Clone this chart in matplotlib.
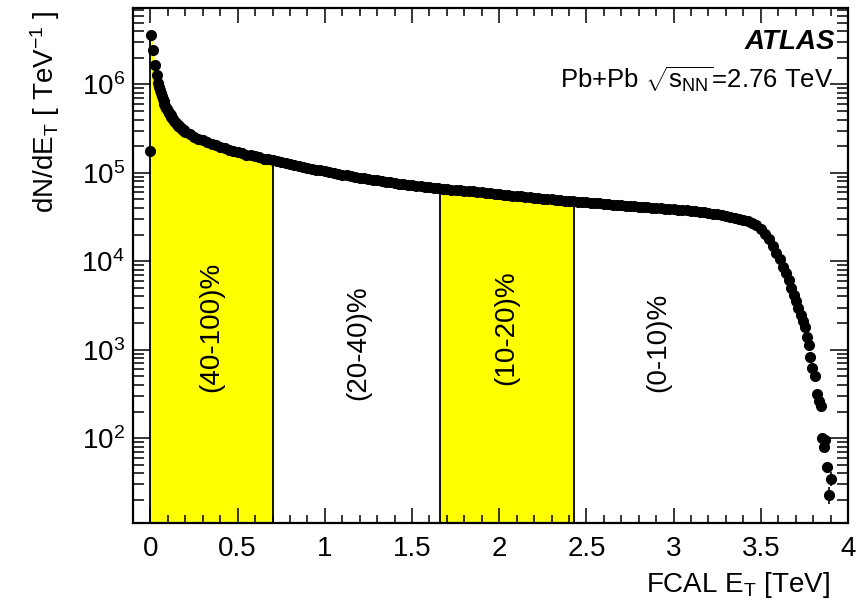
import numpy as np
import matplotlib
matplotlib.use("Agg")
import matplotlib.pyplot as plt
from matplotlib.ticker import LogLocator, MultipleLocator, NullFormatter, LogFormatterMathtext, FormatStrFormatter

plt.rcParams['font.family'] = ['Liberation Sans', 'DejaVu Sans']
plt.rcParams['mathtext.fontset'] = 'custom'
plt.rcParams['mathtext.rm'] = 'Liberation Sans'
plt.rcParams['mathtext.it'] = 'Liberation Sans:italic'
plt.rcParams['mathtext.bf'] = 'Liberation Sans:bold'

# FCAL ET distribution
# first (fine) bins near zero
et_lo = [-0.005, 0.005, 0.015, 0.025, 0.035, 0.045,
         0.05, 0.055, 0.06, 0.065, 0.07, 0.075, 0.08, 0.085, 0.09, 0.095,
         0.1, 0.105, 0.11, 0.115, 0.12, 0.125, 0.13, 0.135, 0.14, 0.145,
         0.15, 0.155, 0.16, 0.165, 0.17, 0.175, 0.18, 0.185, 0.19, 0.195]
dn_lo = [1.75e5, 3.6e6, 2.46e6, 1.67e6, 1.29e6, 1.03e6,
         9.4e5, 8.6e5, 7.9e5, 7.3e5, 6.8e5, 6.4e5, 6.0e5, 5.7e5, 5.45e5, 5.2e5,
         5.0e5, 4.8e5, 4.6e5, 4.45e5, 4.3e5, 4.15e5, 4.02e5, 3.9e5, 3.8e5, 3.7e5,
         3.6e5, 3.5e5, 3.42e5, 3.35e5, 3.27e5, 3.2e5, 3.13e5, 3.07e5, 3.01e5, 2.95e5]

# plateau
et_mid = [0.2, 0.225, 0.25, 0.275, 0.3, 0.325, 0.35, 0.375, 0.4, 0.425, 0.45, 0.475,
          0.5, 0.525, 0.55, 0.575, 0.6, 0.625, 0.65, 0.675, 0.7, 0.725, 0.75, 0.775,
          0.8, 0.825, 0.85, 0.875, 0.9, 0.925, 0.95, 0.975, 1.0, 1.025, 1.05, 1.075,
          1.1, 1.125, 1.15, 1.175, 1.2, 1.225, 1.25, 1.275, 1.3, 1.325, 1.35, 1.375,
          1.4, 1.425, 1.45, 1.475, 1.5, 1.525, 1.55, 1.575, 1.6, 1.625, 1.65, 1.675,
          1.7, 1.725, 1.75, 1.775, 1.8, 1.825, 1.85, 1.875, 1.9, 1.925, 1.95, 1.975,
          2.0, 2.025, 2.05, 2.075, 2.1, 2.125, 2.15, 2.175, 2.2, 2.225, 2.25, 2.275,
          2.3, 2.325, 2.35, 2.375, 2.4, 2.425, 2.45, 2.475, 2.5, 2.525, 2.55, 2.575,
          2.6, 2.625, 2.65, 2.675, 2.7, 2.725, 2.75, 2.775, 2.8, 2.825, 2.85, 2.875,
          2.9, 2.925, 2.95, 2.975, 3.0, 3.025, 3.05, 3.075, 3.1, 3.125, 3.15, 3.175,
          3.2, 3.225, 3.25, 3.275, 3.3, 3.325, 3.35, 3.375, 3.4, 3.425, 3.45, 3.475,
          3.5, 3.525, 3.55]
dn_mid = [2.9e5, 2.72e5, 2.55e5, 2.43e5, 2.32e5, 2.22e5, 2.12e5, 2.04e5, 1.97e5, 1.9e5, 1.83e5, 1.77e5,
          1.71e5, 1.66e5, 1.61e5, 1.57e5, 1.53e5, 1.49e5, 1.45e5, 1.42e5, 1.38e5, 1.35e5, 1.32e5, 1.29e5,
          1.26e5, 1.23e5, 1.2e5, 1.17e5, 1.14e5, 1.11e5, 1.09e5, 1.065e5, 1.04e5, 1.02e5, 9.9e4, 9.7e4,
          9.5e4, 9.35e4, 9.15e4, 9.0e4, 8.8e4, 8.65e4, 8.45e4, 8.3e4, 8.2e4, 8.05e4, 7.9e4, 7.8e4,
          7.7e4, 7.55e4, 7.45e4, 7.35e4, 7.25e4, 7.15e4, 7.05e4, 6.95e4, 6.85e4, 6.75e4, 6.7e4, 6.6e4,
          6.55e4, 6.45e4, 6.4e4, 6.35e4, 6.3e4, 6.2e4, 6.15e4, 6.05e4, 6.0e4, 5.9e4, 5.85e4, 5.8e4,
          5.7e4, 5.65e4, 5.6e4, 5.5e4, 5.45e4, 5.4e4, 5.35e4, 5.3e4, 5.25e4, 5.2e4, 5.1e4, 5.05e4,
          5.0e4, 4.95e4, 4.9e4, 4.85e4, 4.8e4, 4.78e4, 4.72e4, 4.68e4, 4.63e4, 4.6e4, 4.55e4, 4.5e4,
          4.47e4, 4.42e4, 4.38e4, 4.35e4, 4.3e4, 4.27e4, 4.22e4, 4.18e4, 4.15e4, 4.1e4, 4.07e4, 4.03e4,
          4.0e4, 3.97e4, 3.93e4, 3.9e4, 3.86e4, 3.83e4, 3.79e4, 3.75e4, 3.72e4, 3.68e4, 3.63e4, 3.58e4,
          3.5e4, 3.45e4, 3.38e4, 3.32e4, 3.27e4, 3.2e4, 3.12e4, 3.03e4, 2.95e4, 2.85e4, 2.72e4, 2.55e4,
          2.3e4, 2.05e4, 1.8e4]

# steep fall-off
et_tail = [3.57, 3.59, 3.61, 3.63, 3.645, 3.66, 3.675, 3.69, 3.70, 3.715, 3.73, 3.745,
           3.755, 3.765, 3.775, 3.785, 3.795, 3.81, 3.82, 3.835, 3.845, 3.85, 3.86, 3.87,
           3.88, 3.89, 3.90]
dn_tail = [1.5e4, 1.25e4, 1.05e4, 8.6e3, 7.4e3, 6.2e3, 5.0e3, 4.2e3, 3.6e3, 3.0e3, 2.5e3, 2.1e3,
           1.8e3, 1.4e3, 1.14e3, 830, 620, 500, 320, 260, 230, 100, 79, 95,
           47, 23, 35]
err_tail = [122, 112, 102, 93, 86, 79, 71, 65, 60, 55, 50, 46,
            42, 37, 34, 29, 25, 22, 18, 16, 15, 10, 9, 10,
            7, 5, 6]

# centrality bins: yellow bands and labels
bands = [(0.0, 0.70), (1.66, 2.43)]
cent_labels = ["(40-100)%", "(20-40)%", "(10-20)%", "(0-10)%"]

et = np.array(et_lo + et_mid + et_tail)
dn = np.array(dn_lo + dn_mid + dn_tail)
err = np.array([0.0] * (len(et_lo) + len(et_mid)) + err_tail)

ymin, ymax = 11, 7.3e6

fig = plt.figure(figsize=(8.65, 6.09), dpi=100)
ax = fig.add_axes([0.1538, 0.1412, 0.8265, 0.8457])

for lo, hi in bands:
    m = (et >= lo) & (et <= hi)
    xs = np.concatenate([[lo], et[m], [hi]])
    ys = np.concatenate([[dn[m][0]], dn[m], [dn[m][-1]]])
    ax.fill_between(xs, ymin, ys, color='#ffff00', lw=0, zorder=1)
    ax.vlines([lo, hi], ymin, [ys[0], ys[-1]], color='k', lw=1.3, zorder=2)

ax.errorbar(et, dn, yerr=err, fmt='o', color='k', ms=7, elinewidth=1.2, capsize=0, zorder=3)

ax.set_yscale('log')
ax.set_xlim(-0.1, 4.0)
ax.set_ylim(ymin, ymax)

ax.xaxis.set_major_locator(MultipleLocator(0.5))
ax.xaxis.set_minor_locator(MultipleLocator(0.1))
ax.xaxis.set_major_formatter(FormatStrFormatter('%g'))
ax.yaxis.set_major_locator(LogLocator(base=10, numticks=10))
ax.yaxis.set_minor_locator(LogLocator(base=10, subs=np.arange(2, 10), numticks=10))
ax.yaxis.set_minor_formatter(NullFormatter())
ax.yaxis.set_major_formatter(LogFormatterMathtext())

ax.tick_params(which='both', direction='in', top=True, right=True, labelsize=20, width=1.1)
ax.tick_params(axis='x', which='major', length=11, pad=9)
ax.tick_params(axis='x', which='minor', length=6)
ax.tick_params(axis='y', which='major', length=13, pad=6)
ax.tick_params(axis='y', which='minor', length=8)
for s in ax.spines.values():
    s.set_linewidth(1.6)

# centrality labels, placed mid-bin
for lab, xp, yp in zip(cent_labels, [0.35, 1.19, 2.04, 2.91], [0.38, 0.35, 0.38, 0.35]):
    ax.text(xp, yp, lab, rotation=90, ha='center', va='center', fontsize=20,
            transform=ax.get_xaxis_transform())

ax.text(0.982, 0.934, "ATLAS", transform=ax.transAxes, ha='right', va='center',
        fontsize=20, fontweight='bold', fontstyle='italic')
ax.text(0.979, 0.86, r"Pb+Pb $\sqrt{\mathrm{s}_{\mathrm{NN}}}$=2.76 TeV", transform=ax.transAxes,
        ha='right', va='center', fontsize=18.5)

fig.text(830 / 865, 1 - 585 / 609, r"FCAL E$_{\mathrm{T}}$ [TeV]", ha='right', va='center', fontsize=20)
fig.text(45 / 865, 1 - 10 / 609, r"dN/dE$_{\mathrm{T}}$ [ TeV$^{\mathrm{-1}}$ ]", ha='center', va='top',
         rotation=90, fontsize=20)

fig.savefig("out.png", dpi=100)
